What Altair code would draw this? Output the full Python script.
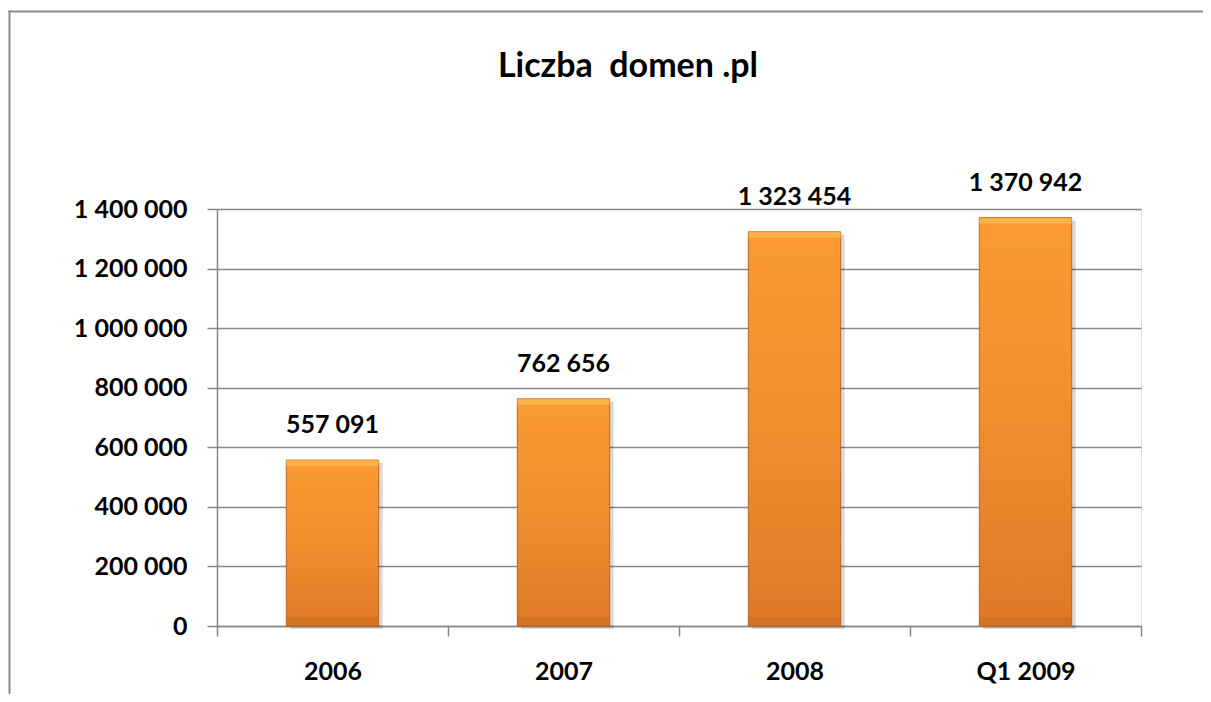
import altair as alt
import pandas as pd

categories = ["2006", "2007", "2008", "Q1 2009"]
values = [557091, 762656, 1323454, 1370942]
y_ticks = [0, 200000, 400000, 600000, 800000, 1000000, 1200000, 1400000]
title_text = ["Liczba\u00a0 domen .pl"]

df = pd.DataFrame({"cat": categories, "val": values})
tdf = pd.DataFrame({"t": title_text})

FONT = "Lato"
FS = 25
FW = "bold"
GRID = "#878787"
W, H = 924, 417

space_fmt = "replace(replace(format({v}, ','), ',', ' '), ',', ' ')"

x = alt.X(
    "cat:N", sort=categories, title=None,
    scale=alt.Scale(paddingInner=0, paddingOuter=0),
    axis=alt.Axis(tickBand="extent", labelAngle=0, labelFont=FONT, labelFontSize=FS,
                  labelFontWeight=FW, labelColor="black", labelPadding=23,
                  tickSize=10, tickColor=GRID, tickWidth=1.5, domainColor=GRID,
                  domainWidth=1.5, grid=False),
)
y = alt.Y(
    "val:Q", title=None, scale=alt.Scale(domain=[0, 1400000], nice=False),
    axis=alt.Axis(values=y_ticks, labelExpr=space_fmt.format(v="datum.value"),
                  labelFont=FONT, labelFontSize=FS, labelFontWeight=FW,
                  labelColor="black", labelPadding=20, tickSize=10, tickColor=GRID,
                  tickWidth=1.5, domainColor=GRID, domainWidth=1.5, grid=True,
                  gridColor=GRID, gridWidth=1.5),
)

base = alt.Chart(df)
bw = alt.RelativeBandSize(0.4)

shadow = base.mark_bar(width=bw, color="#000000", opacity=0.15, xOffset=4, yOffset=3,
                       y2Offset=3).encode(x=x, y=y, y2=alt.datum(0))

grad = alt.Gradient(
    gradient="linear", x1=0, x2=0, y1=0, y2=1,
    stops=[alt.GradientStop(offset=0, color="#FA9A31"),
           alt.GradientStop(offset=0.5, color="#F08E2E"),
           alt.GradientStop(offset=1, color="#DD7926")],
)
bars = base.mark_bar(width=bw, color=grad, stroke="#BF651E", strokeWidth=1).encode(x=x, y=y)

top_hl = base.mark_bar(width=bw, color="#FFC35C", opacity=0.6, y2Offset=6).encode(
    x=x, y=y, y2=alt.Y2("val:Q"))
bot_dk = base.mark_bar(width=bw, color="#B85D18", opacity=0.25, yOffset=-9).encode(
    x=x, y=alt.datum(0), y2=alt.datum(0))

labels = base.transform_calculate(
    lbl=space_fmt.format(v="datum.val")
).mark_text(font=FONT, fontSize=FS, fontWeight=FW, color="black",
            baseline="alphabetic", dy=-27).encode(x=x, y=y, text="lbl:N")

title = alt.Chart(tdf).mark_text(font=FONT, fontSize=34, fontWeight=FW, color="black",
                                 baseline="alphabetic", align="center").encode(
    x=alt.value(411), y=alt.value(-132), text="t:N")

frame_top = alt.Chart(tdf).mark_rule(stroke="#8C8C8C", strokeWidth=2).encode(
    x=alt.value(-208.5), x2=alt.value(1000), y=alt.value(-197.5), y2=alt.value(-197.5))
frame_left = alt.Chart(tdf).mark_rule(stroke="#8C8C8C", strokeWidth=2).encode(
    x=alt.value(-207.5), x2=alt.value(-207.5), y=alt.value(-198.5), y2=alt.value(600))

chart = alt.layer(frame_top, frame_left, shadow, bars, top_hl, bot_dk, labels, title).properties(
    width=W, height=H,
    autosize=alt.AutoSizeParams(type="none"),
    padding={"left": 209, "top": 201, "right": 62, "bottom": 68},
).configure_view(stroke=None).configure(background="white")

chart.save("out.html", embed_options={"renderer": "svg", "actions": False})
